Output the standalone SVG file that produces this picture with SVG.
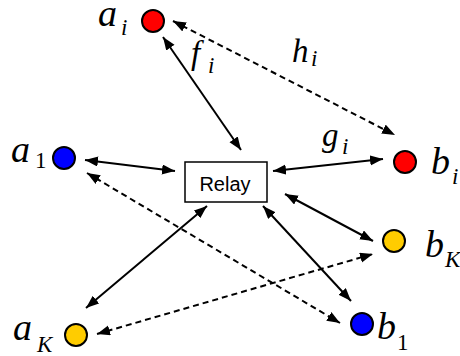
<svg xmlns="http://www.w3.org/2000/svg" width="460" height="356" viewBox="0 0 460 356">
<style>
.ln{stroke:#000;stroke-width:2;fill:none}
.ds{stroke-dasharray:6 4}
.nd{stroke:#000;stroke-width:2}
</style>
<defs>
<marker id="ah" markerUnits="userSpaceOnUse" markerWidth="14" markerHeight="11" refX="13" refY="5" orient="auto-start-reverse">
<path d="M0,0 L13,5 L0,10 z" fill="#000"/>
</marker>
</defs>
<rect width="460" height="356" fill="#fff"/>
<g id="connectors">
<line class="ln" x1="163" y1="37" x2="241" y2="150" marker-start="url(#ah)" marker-end="url(#ah)"/>
<line class="ln ds" x1="173" y1="21" x2="395" y2="135" marker-start="url(#ah)" marker-end="url(#ah)"/>
<line class="ln" x1="85" y1="160" x2="175" y2="171" marker-start="url(#ah)" marker-end="url(#ah)"/>
<line class="ln" x1="273" y1="171" x2="383" y2="159" marker-start="url(#ah)" marker-end="url(#ah)"/>
<line class="ln ds" x1="87" y1="173" x2="340" y2="323" marker-start="url(#ah)" marker-end="url(#ah)"/>
<line class="ln" x1="86" y1="308" x2="207" y2="206" marker-start="url(#ah)" marker-end="url(#ah)"/>
<line class="ln ds" x1="97" y1="334" x2="373" y2="254" marker-start="url(#ah)" marker-end="url(#ah)"/>
<line class="ln" x1="285" y1="194" x2="373" y2="241" marker-start="url(#ah)" marker-end="url(#ah)"/>
<line class="ln" x1="263" y1="206" x2="351" y2="301" marker-start="url(#ah)" marker-end="url(#ah)"/>
<g font-family="Liberation Serif, DejaVu Serif, serif" font-style="italic" font-size="33" fill="#000">
<text x="191" y="64">f<tspan font-size="23" x="208" y="73">i</tspan></text>
<text x="292" y="62">h<tspan font-size="23" x="311" y="66">i</tspan></text>
<text x="322" y="146">g<tspan font-size="23" x="342" y="154">i</tspan></text>
</g>
</g>
<g id="relay">
<rect x="185" y="162" width="82" height="40" fill="#fff" stroke="#000" stroke-width="1.5"/>
<text x="225" y="191" text-anchor="middle" font-family="Liberation Sans, Arial, sans-serif" font-size="20" fill="#000">Relay</text>
</g>
<g font-family="Liberation Serif, DejaVu Serif, serif" font-style="italic" font-size="38" fill="#000">
<g id="ai">
<circle class="nd" cx="153" cy="21" r="11" fill="#FF0000"/>
<text x="98" y="26">a<tspan font-size="23" x="121" y="35">i</tspan></text>
</g>
<g id="a1">
<circle class="nd" cx="64" cy="158" r="11" fill="#0000FF"/>
<text x="11" y="162">a<tspan font-size="23" font-style="normal" x="35" y="168">1</tspan></text>
</g>
<g id="aK">
<circle class="nd" cx="76" cy="335" r="11" fill="#FFCC00"/>
<text x="13" y="340">a<tspan font-size="23" x="37" y="352">K</tspan></text>
</g>
<g id="bi">
<circle class="nd" cx="405" cy="162" r="11" fill="#FF0000"/>
<text x="431" y="174">b<tspan font-size="23" x="452" y="184">i</tspan></text>
</g>
<g id="bK">
<circle class="nd" cx="394" cy="241" r="11" fill="#FFCC00"/>
<text x="425" y="257">b<tspan font-size="23" x="445" y="267">K</tspan></text>
</g>
<g id="b1">
<circle class="nd" cx="362" cy="324" r="11" fill="#0000FF"/>
<text x="377" y="339">b<tspan font-size="23" font-style="normal" x="397" y="350">1</tspan></text>
</g>
</g>
</svg>
